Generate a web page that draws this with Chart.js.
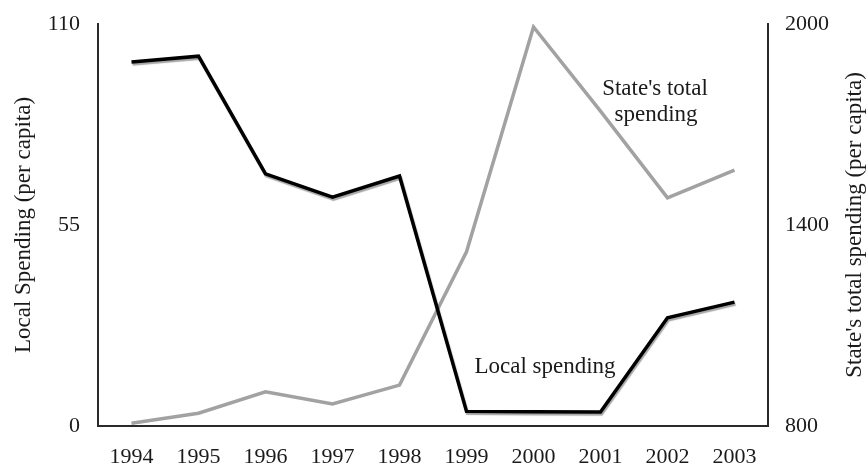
<!DOCTYPE html>
<html>
<head>
<meta charset="utf-8">
<script src="https://cdn.jsdelivr.net/npm/chart.js@4.4.1/dist/chart.umd.min.js"></script>
<style>
  html, body { margin: 0; padding: 0; background: #fff; }
  #wrap { width: 868px; height: 472px; }
</style>
</head>
<body>
<div id="wrap"><canvas id="chart" width="868" height="472"></canvas></div>
<script>
const years = ['1994', '1995', '1996', '1997', '1998', '1999', '2000', '2001', '2002', '2003'];
const localSpending = [99.6, 101.2, 69.0, 62.6, 68.4, 4.0, 3.9, 3.8, 29.6, 33.9];
const stateSpending = [808, 838, 902, 866, 922, 1320, 1991, 1740, 1481, 1564];
const localTicks = [0, 55, 110];
const stateTicks = [800, 1400, 2000];

const FONT = "'Liberation Serif', 'Times New Roman', serif";
const TEXT = '#1a1a1a';

// black line gets a soft grey drop shadow like the original
const shadowPlugin = {
  id: 'lineShadow',
  beforeDatasetDraw(chart, args) {
    if (args.index !== 0) return;
    const ctx = chart.ctx;
    ctx.save();
    ctx.shadowColor = 'rgba(0,0,0,0.35)';
    ctx.shadowOffsetX = 1;
    ctx.shadowOffsetY = 2;
    ctx.shadowBlur = 1;
  },
  afterDatasetDraw(chart, args) {
    if (args.index !== 0) return;
    chart.ctx.restore();
  }
};

// axis titles and in-plot labels
const labelsPlugin = {
  id: 'textLabels',
  afterDraw(chart) {
    const ctx = chart.ctx;
    const area = chart.chartArea;
    const midY = (area.top + area.bottom) / 2;
    ctx.save();
    ctx.fillStyle = TEXT;
    ctx.font = '23px ' + FONT;
    ctx.textAlign = 'center';
    ctx.textBaseline = 'middle';

    ctx.save();
    ctx.translate(24, midY);
    ctx.rotate(-Math.PI / 2);
    ctx.fillText('Local Spending (per capita)', 0, 0);
    ctx.restore();

    ctx.save();
    ctx.translate(855, midY);
    ctx.rotate(-Math.PI / 2);
    ctx.fillText("State's total spending (per capita)", 0, 0);
    ctx.restore();

    ctx.textBaseline = 'alphabetic';
    ctx.fillText('Local spending', 545, 373);
    ctx.fillText("State's total", 655, 95);
    ctx.fillText('spending', 656, 121);
    ctx.restore();
  }
};

function fitVertical(width) {
  return scale => {
    scale.width = width;
    scale.paddingTop = 0;
    scale.paddingBottom = 0;
  };
}

new Chart(document.getElementById('chart').getContext('2d'), {
  type: 'line',
  data: {
    labels: years,
    datasets: [
      {
        label: 'Local spending',
        data: localSpending,
        yAxisID: 'y',
        borderColor: '#000',
        borderWidth: 3.5,
        pointRadius: 0,
        tension: 0,
        fill: false
      },
      {
        label: "State's total spending",
        data: stateSpending,
        yAxisID: 'y1',
        borderColor: '#a2a2a2',
        borderWidth: 3.5,
        pointRadius: 0,
        tension: 0,
        fill: false
      }
    ]
  },
  options: {
    responsive: false,
    animation: false,
    layout: { padding: { top: 24, left: 0, right: 0, bottom: 0 } },
    plugins: {
      legend: { display: false },
      tooltip: { enabled: false },
      title: { display: false }
    },
    scales: {
      x: {
        offset: true,
        grid: { display: false, drawTicks: false },
        border: { display: true, color: '#2a2a2a', width: 2 },
        ticks: {
          color: TEXT,
          font: { family: FONT, size: 22 },
          padding: 18,
          maxRotation: 0,
          autoSkip: false
        },
        afterFit(scale) {
          scale.height = 46;
          scale.paddingLeft = 0;
          scale.paddingRight = 0;
        }
      },
      y: {
        position: 'left',
        min: 0,
        max: 110,
        afterBuildTicks(scale) { scale.ticks = localTicks.map(v => ({ value: v })); },
        grid: { display: false, drawTicks: false },
        border: { display: true, color: '#2a2a2a', width: 2 },
        ticks: {
          color: TEXT,
          font: { family: FONT, size: 22 },
          padding: 18,
          callback: v => String(v)
        },
        afterFit: fitVertical(98)
      },
      y1: {
        position: 'right',
        min: 800,
        max: 2000,
        afterBuildTicks(scale) { scale.ticks = stateTicks.map(v => ({ value: v })); },
        grid: { display: false, drawTicks: false },
        border: { display: true, color: '#2a2a2a', width: 2 },
        ticks: {
          color: TEXT,
          font: { family: FONT, size: 22 },
          padding: 17,
          callback: v => String(v)
        },
        afterFit: fitVertical(100)
      }
    }
  },
  plugins: [shadowPlugin, labelsPlugin]
});
</script>
</body>
</html>
